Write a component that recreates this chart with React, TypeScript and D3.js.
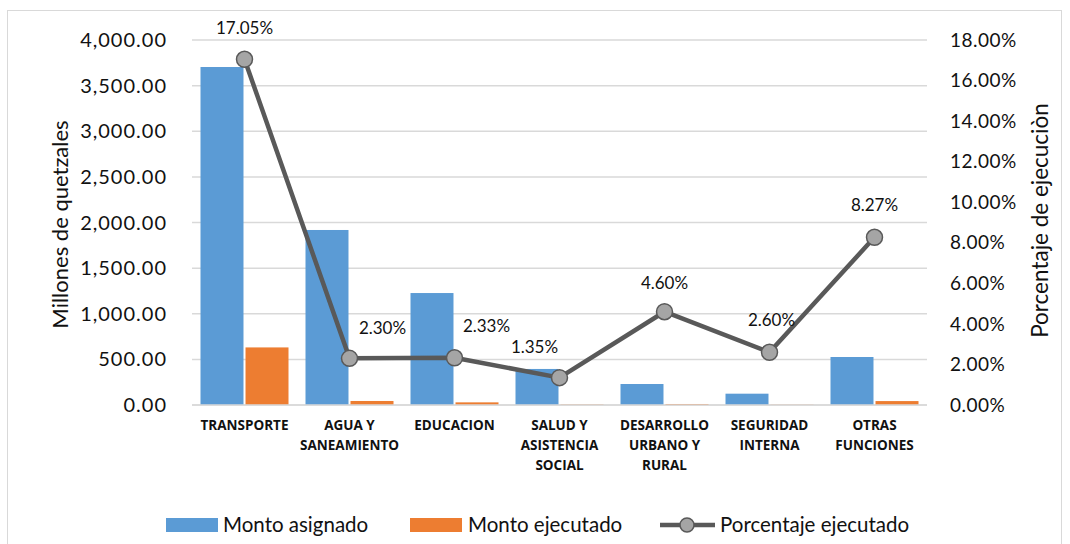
import React from 'react';
import * as d3 from 'd3';

const categories = [
  ['TRANSPORTE'],
  ['AGUA Y', 'SANEAMIENTO'],
  ['EDUCACION'],
  ['SALUD Y', 'ASISTENCIA', 'SOCIAL'],
  ['DESARROLLO', 'URBANO Y', 'RURAL'],
  ['SEGURIDAD', 'INTERNA'],
  ['OTRAS', 'FUNCIONES'],
];
const montoAsignado = [3704, 1918, 1227, 395, 230, 124, 526];
const montoEjecutado = [631, 44, 29, 5, 11, 3, 43];
const porcentaje = [17.05, 2.3, 2.33, 1.35, 4.6, 2.6, 8.27];
const leftTicks = [0, 500, 1000, 1500, 2000, 2500, 3000, 3500, 4000];
const rightTicks = [0, 2, 4, 6, 8, 10, 12, 14, 16, 18];

// desplazamiento de etiquetas (como Excel las dejó)
const labelShift = [[0, -31], [33, -30], [32, -32], [-25, -31], [0, -29], [2, -32], [0, -32]];

const blue = '#5B9BD5';
const orange = '#ED7D31';
const lineColor = '#595959';
const gridColor = '#D9D9D9';
const textColor = '#111';
const font = 'Lato, "Open Sans", sans-serif';
const catFont = '"Open Sans", Lato, sans-serif';

const W = 1070;
const H = 544;
const left = 192;
const right = 927;
const top = 40;
const bottom = 405;

export default function App() {
  const idx = categories.map((_, i) => String(i));
  const x0 = d3.scaleBand().domain(idx).range([left, right]);
  const x1 = d3.scaleBand().domain(['a', 'e']).range([8.5, x0.bandwidth() - 8.5]).paddingInner(0.045);
  const yL = d3.scaleLinear().domain([0, 4000]).range([bottom, top]);
  const yR = d3.scaleLinear().domain([0, 18]).range([bottom, top]);
  const cx = (i: number) => (x0(String(i)) as number) + x0.bandwidth() / 2;

  const line = d3.line<number>()
    .x((_, i) => cx(i))
    .y(d => yR(d));

  const fmtL = d3.format(',.2f');
  const fmtR = (d: number) => d.toFixed(2) + '%';

  return (
    <svg width={W} height={H} style={{ position: 'absolute', left: 0, top: 0, background: '#fff' }}>
      <rect x={7.5} y={10.5} width={1054} height={545} fill="#fff" stroke={gridColor} />

      {/* rejilla */}
      {leftTicks.map(t => (
        <line key={'g' + t} x1={left} x2={right} y1={yL(t)} y2={yL(t)} stroke={gridColor} strokeWidth={1.5} />
      ))}

      {/* ejes */}
      {leftTicks.map(t => (
        <text key={'l' + t} x={167} y={yL(t)} dy="0.35em" textAnchor="end" fontFamily={font} fontSize={20}
          letterSpacing={1} fill={textColor}>
          {fmtL(t)}
        </text>
      ))}
      {rightTicks.map(t => (
        <text key={'r' + t} x={950} y={yR(t)} dy="0.35em" textAnchor="start" fontFamily={font} fontSize={19}
          letterSpacing={0.5} fill={textColor}>
          {fmtR(t)}
        </text>
      ))}
      <text transform={`translate(60 ${(top + bottom) / 2 + 2}) rotate(-90)`} textAnchor="middle" dy="0.35em"
        fontFamily={font} fontSize={22} fill={textColor}>Millones de quetzales</text>
      <text transform={`translate(1040 ${(top + bottom) / 2 - 2}) rotate(-90)`} textAnchor="middle" dy="0.35em"
        fontFamily={font} fontSize={22.5} fill={textColor}>Porcentaje de ejecuciòn</text>

      {/* barras */}
      {categories.map((_, i) => {
        const bx = x0(String(i)) as number;
        return (
          <g key={'b' + i}>
            <rect x={bx + (x1('a') as number)} y={yL(montoAsignado[i])} width={x1.bandwidth()}
              height={bottom - yL(montoAsignado[i])} fill={blue} />
            <rect x={bx + (x1('e') as number)} y={yL(montoEjecutado[i])} width={x1.bandwidth()}
              height={bottom - yL(montoEjecutado[i])} fill={orange} />
          </g>
        );
      })}
      <line x1={left} x2={right} y1={bottom} y2={bottom} stroke={gridColor} strokeWidth={1.5} />

      {/* categorias */}
      {categories.map((c, i) => (
        <text key={'c' + i} x={cx(i)} y={430} textAnchor="middle" fontFamily={catFont} fontSize={13.5}
          fontWeight={700} fill={textColor}>
          {c.map((s, j) => (
            <tspan key={j} x={cx(i)} dy={j === 0 ? 0 : 20}>{s}</tspan>
          ))}
        </text>
      ))}

      {/* linea */}
      <path d={line(porcentaje) as string} fill="none" stroke={lineColor} strokeWidth={4.5} strokeLinejoin="round" />
      {porcentaje.map((p, i) => (
        <circle key={'p' + i} cx={cx(i)} cy={yR(p)} r={8} fill="#A5A5A5" stroke={lineColor} strokeWidth={1.5} />
      ))}
      {porcentaje.map((p, i) => (
        <text key={'t' + i} x={cx(i) + labelShift[i][0]} y={yR(p) + labelShift[i][1]} dy="0.35em"
          textAnchor="middle" fontFamily={font} fontSize={17} fill={textColor}>
          {fmtR(p)}
        </text>
      ))}

      {/* leyenda */}
      <g fontFamily={font} fontSize={20.5} fill={textColor}>
        <rect x={166} y={518} width={52} height={14} fill={blue} />
        <text x={223} y={525} dy="0.35em">Monto asignado</text>
        <rect x={410} y={518} width={52} height={14} fill={orange} />
        <text x={468} y={525} dy="0.35em">Monto ejecutado</text>
        <line x1={660} x2={715} y1={525} y2={525} stroke={lineColor} strokeWidth={4.5} />
        <circle cx={687} cy={525} r={7} fill="#A5A5A5" stroke={lineColor} strokeWidth={1.5} />
        <text x={720} y={525} dy="0.35em">Porcentaje ejecutado</text>
      </g>
    </svg>
  );
}
